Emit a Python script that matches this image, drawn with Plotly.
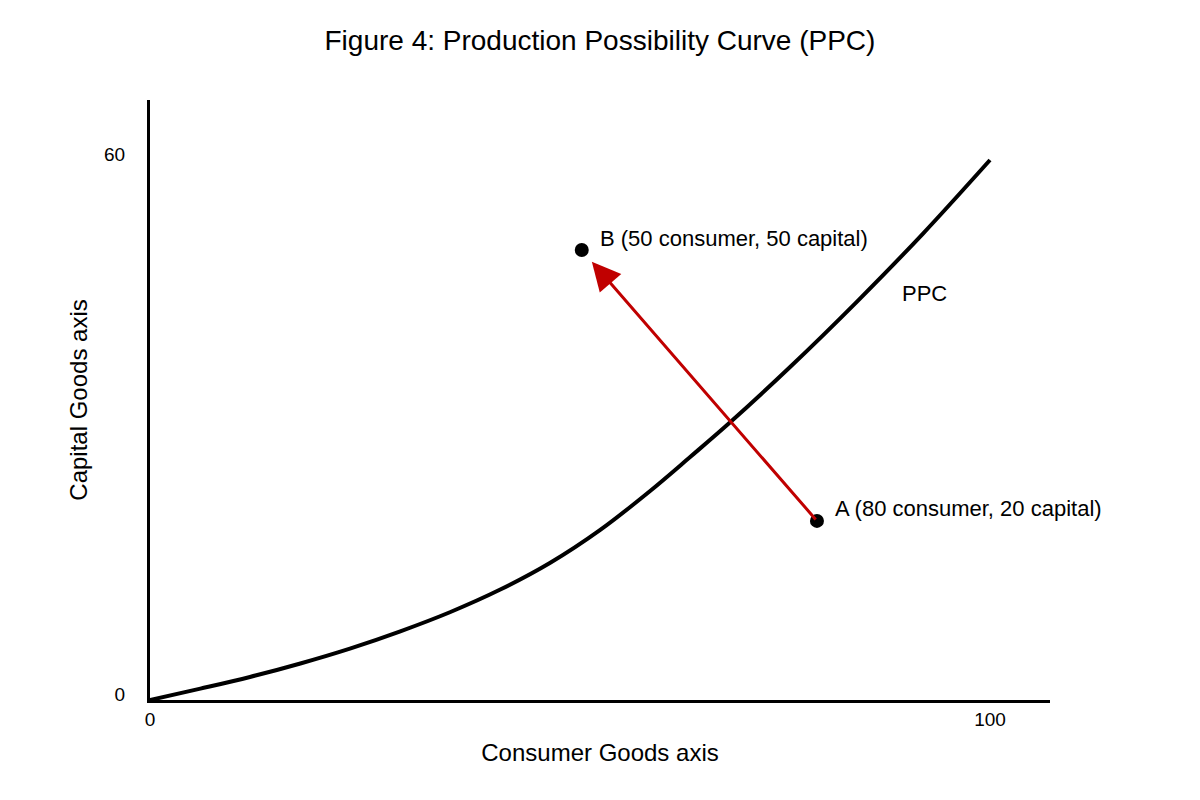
import plotly.graph_objects as go

# PPC curve (consumer goods, capital goods)
ppc_consumer = [0, 6, 11.9, 17.9, 23.8, 29.8, 35.7, 41.7, 47.6, 53.6, 59.5, 64.3, 69, 76.2, 84.2, 92, 100]
ppc_capital = [0, 1.26, 2.56, 4.06, 5.71, 7.63, 9.75, 12.27, 15.22, 18.9, 23.2, 27.0, 30.8, 37.0, 44.3, 51.8, 60]

# Points
point_names = ["A", "B"]
point_consumer = [79.4, 51.4]
point_capital = [19.9, 50.0]
point_labels = ["A (80 consumer, 20 capital)", "B (50 consumer, 50 capital)"]

# Arrow tip (from A towards B)
arrow_tip = (52.6, 48.7)

x_ticks = [0, 100]
y_ticks = [0, 60]

FONT = "Liberation Sans, Arial, sans-serif"

fig = go.Figure()
fig.add_trace(go.Scatter(
    x=ppc_consumer, y=ppc_capital, mode="lines",
    line=dict(color="black", width=4, shape="spline", smoothing=1.0, simplify=False),
    hoverinfo="skip", showlegend=False,
))
fig.add_trace(go.Scatter(
    x=point_consumer, y=point_capital, mode="markers",
    marker=dict(color="black", size=14),
    showlegend=False,
))

# Arrow from A to B
fig.add_annotation(
    x=arrow_tip[0], y=arrow_tip[1], ax=point_consumer[0], ay=point_capital[0],
    xref="x", yref="y", axref="x", ayref="y",
    text="", showarrow=True, arrowhead=2, arrowsize=1.9, arrowwidth=3,
    arrowcolor="#c00000", standoff=0, startstandoff=0,
)

for name, xc, yc, lab in zip(point_names, point_consumer, point_capital, point_labels):
    fig.add_annotation(
        x=xc, y=yc, xref="x", yref="y", text=lab, showarrow=False,
        xanchor="left", yanchor="middle", xshift=16, yshift=12,
        font=dict(family=FONT, size=22, color="black"),
    )

fig.add_annotation(
    x=89.3, y=45.2, xref="x", yref="y", text="PPC", showarrow=False,
    xanchor="left", yanchor="middle",
    font=dict(family=FONT, size=22, color="black"),
)

fig.update_layout(
    width=1200, height=800,
    paper_bgcolor="white", plot_bgcolor="white",
    margin=dict(l=142, r=158, t=92, b=108),
    title=dict(text="Figure 4: Production Possibility Curve (PPC)",
               x=0.4933, xanchor="center", y=0.96, yanchor="middle",
               font=dict(family=FONT, size=28, color="black")),
    font=dict(family=FONT, color="black"),
    xaxis=dict(
        range=[0, 900 / 8.4], tickvals=x_ticks, ticktext=[str(v) for v in x_ticks],
        showgrid=False, zeroline=False, showline=True, linecolor="black", linewidth=3,
        ticks="", tickfont=dict(size=19, family=FONT), ticklabelstandoff=0,
        title=dict(text="Consumer Goods axis", font=dict(size=24, family=FONT), standoff=16),
        fixedrange=True,
    ),
    yaxis=dict(
        range=[0, 600 / 9], tickvals=y_ticks, ticktext=[str(v) for v in y_ticks],
        showgrid=False, zeroline=False, showline=True, linecolor="black", linewidth=3,
        ticks="", tickfont=dict(size=19, family=FONT), ticklabelstandoff=18,
        ticklabelshift=-6,
        title=dict(text="Capital Goods axis", font=dict(size=24, family=FONT), standoff=10),
        fixedrange=True,
    ),
)

fig.write_html("out.html")
